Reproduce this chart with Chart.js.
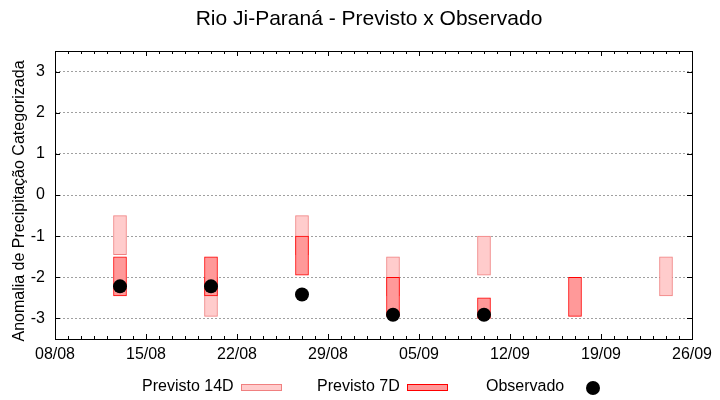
<!DOCTYPE html>
<html>
<head>
<meta charset="utf-8">
<script src="https://cdn.jsdelivr.net/npm/chart.js@4/dist/chart.umd.min.js"></script>
<style>
  html, body { margin: 0; padding: 0; background: #fff; }
  #wrap { width: 720px; height: 400px; }
</style>
</head>
<body>
<div id="wrap"><canvas id="myChart" width="720" height="400"></canvas></div>
<script>
// days counted from 08/08
const days = [5, 12, 19, 26, 33, 40, 47];
const tickDays = [0, 7, 14, 21, 28, 35, 42, 49];
const tickLabels = ['08/08', '15/08', '22/08', '29/08', '05/09', '12/09', '19/09', '26/09'];
const yTicks = [-3, -2, -1, 0, 1, 2, 3];

// floating bars [bottom, top]
const prev14 = [[-1.45, -0.5], [-2.95, -2.0], [-1.45, -0.5], [-2.45, -1.5], [-1.95, -1.0], null, [-2.45, -1.5]];
const prev7 = [[-2.45, -1.5], [-2.45, -1.5], [-1.95, -1.0], [-2.95, -2.0], [-3.0, -2.5], [-2.95, -2.0], null];
const observado = [-2.22, -2.22, -2.42, -2.91, -2.91, null, null];

const FONT = '"Liberation Sans", Arial, sans-serif';

function pairs(vals) {
    let out = [];
    days.forEach((d, i) => {
        if (vals[i] !== null) out.push({ x: d, y: vals[i] });
    });
    return out;
}

const frame = {
    id: 'frame',
    afterDraw(chart) {
        const ctx = chart.ctx;
        const a = chart.chartArea;
        const xs = chart.scales.x, ys = chart.scales.y;
        ctx.save();
        ctx.strokeStyle = '#000';
        ctx.lineWidth = 1;
        ctx.beginPath();
        // minor / major ticks, inward
        for (let d = 0; d <= 49; d++) {
            const px = Math.round(xs.getPixelForValue(d)) + 0.5;
            const len = d % 7 === 0 ? 5 : 3;
            ctx.moveTo(px, a.bottom); ctx.lineTo(px, a.bottom - len);
            ctx.moveTo(px, a.top); ctx.lineTo(px, a.top + len);
        }
        yTicks.forEach(v => {
            const py = Math.round(ys.getPixelForValue(v)) + 0.5;
            ctx.moveTo(a.left, py); ctx.lineTo(a.left + 5, py);
            ctx.moveTo(a.right, py); ctx.lineTo(a.right - 5, py);
        });
        ctx.stroke();
        ctx.strokeRect(Math.round(a.left) + 0.5, Math.round(a.top) + 0.5,
            Math.round(a.right - a.left), Math.round(a.bottom - a.top));

        // title
        ctx.fillStyle = '#000';
        ctx.font = '21px ' + FONT;
        ctx.textAlign = 'center';
        ctx.textBaseline = 'middle';
        ctx.fillText('Rio Ji-Paraná - Previsto x Observado', 369, 19);

        // y axis title
        ctx.font = '16px ' + FONT;
        ctx.save();
        ctx.translate(20, 201);
        ctx.rotate(-Math.PI / 2);
        ctx.fillText('Anomalia de Precipitação Categorizada', 0, 0);
        ctx.restore();

        // legend: text then symbol
        ctx.textAlign = 'left';
        const ly = 387;
        ctx.fillText('Previsto 14D', 142, ly);
        ctx.fillStyle = '#ffcccc';
        ctx.fillRect(241, ly - 2, 40, 6);
        ctx.strokeStyle = '#f08080';
        ctx.strokeRect(241.5, ly - 2.5, 40, 6);

        ctx.fillStyle = '#000';
        ctx.fillText('Previsto 7D', 317, ly);
        ctx.fillStyle = '#ff9999';
        ctx.fillRect(407, ly - 2, 40, 6);
        ctx.strokeStyle = '#ff0000';
        ctx.strokeRect(407.5, ly - 2.5, 40, 6);

        ctx.fillStyle = '#000';
        ctx.fillText('Observado', 486, ly);
        ctx.beginPath();
        ctx.arc(593, ly + 1, 7, 0, Math.PI * 2);
        ctx.fill();
        ctx.restore();
    }
};

const ctx = document.getElementById('myChart').getContext('2d');
const myChart = new Chart(ctx, {
    type: 'bar',
    data: {
        datasets: [{
            type: 'scatter',
            label: 'Observado',
            data: pairs(observado),
            backgroundColor: '#000',
            borderColor: '#000',
            borderWidth: 0,
            pointRadius: 7,
            pointHoverRadius: 7,
            order: 0
        }, {
            label: 'Previsto 7D',
            data: pairs(prev7),
            backgroundColor: '#ff9999',
            borderColor: '#ff0000',
            borderWidth: 1,
            borderSkipped: false,
            barThickness: 13,
            grouped: false,
            order: 1
        }, {
            label: 'Previsto 14D',
            data: pairs(prev14),
            backgroundColor: '#ffcccc',
            borderColor: '#f08080',
            borderWidth: 1,
            borderSkipped: false,
            barThickness: 13,
            grouped: false,
            order: 2
        }]
    },
    options: {
        responsive: false,
        animation: false,
        layout: { padding: { top: 51, right: 28, bottom: 31, left: 0 } },
        plugins: {
            legend: { display: false },
            tooltip: { enabled: false }
        },
        scales: {
            x: {
                type: 'linear',
                min: 0,
                max: 49,
                offset: false,
                grid: { display: false, offset: false, drawTicks: false },
                border: { display: false },
                afterBuildTicks: s => { s.ticks = tickDays.map(v => ({ value: v })); },
                afterFit: s => { s.height = 30; },
                ticks: {
                    autoSkip: false,
                    maxRotation: 0,
                    padding: 6,
                    color: '#000',
                    font: { family: FONT, size: 16 },
                    callback: v => tickLabels[tickDays.indexOf(v)]
                }
            },
            y: {
                min: -3.5,
                max: 3.5,
                grid: { color: '#a0a0a0', lineWidth: 1, drawTicks: false },
                border: { display: false, dash: [2, 2] },
                afterBuildTicks: s => { s.ticks = yTicks.map(v => ({ value: v })); },
                afterFit: s => { s.width = 55; },
                ticks: {
                    padding: 10,
                    color: '#000',
                    font: { family: FONT, size: 16 }
                }
            }
        }
    },
    plugins: [frame]
});
</script>
</body>
</html>
